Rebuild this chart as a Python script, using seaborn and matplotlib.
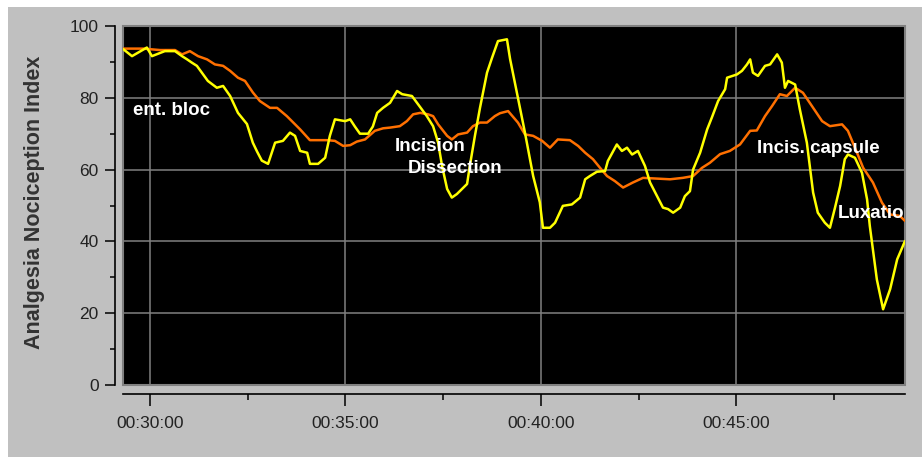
import numpy as np
import pandas as pd
import seaborn as sns
import matplotlib.pyplot as plt
from matplotlib.patches import Rectangle
from matplotlib.ticker import FixedLocator, FuncFormatter

# waktu dalam menit (00:MM:SS)
yellow_t = [29.31, 29.54, 29.92, 30.05, 30.38, 30.64, 30.82, 30.95, 31.07, 31.20,
            31.48, 31.71, 31.87, 32.05, 32.25, 32.48, 32.63, 32.74, 32.86, 33.02,
            33.20, 33.40, 33.58, 33.71, 33.84, 34.02, 34.09, 34.30, 34.48, 34.60,
            34.73, 34.99, 35.12, 35.24, 35.37, 35.58, 35.70, 35.81, 35.96, 36.14,
            36.32, 36.45, 36.70, 36.85, 37.08, 37.24, 37.37, 37.47, 37.60, 37.72,
            37.85, 37.98, 38.11, 38.18, 38.31, 38.44, 38.62, 38.75, 38.90, 39.13,
            39.21, 39.28, 39.41, 39.59, 39.80, 39.97, 40.05, 40.23, 40.36, 40.56,
            40.79, 41.00, 41.13, 41.25, 41.43, 41.64, 41.71, 41.94, 42.07, 42.20,
            42.33, 42.48, 42.66, 42.79, 42.97, 43.12, 43.25, 43.38, 43.56, 43.68,
            43.81, 43.89, 44.07, 44.25, 44.37, 44.53, 44.71, 44.76, 45.01, 45.14,
            45.27, 45.35, 45.42, 45.55, 45.73, 45.86, 46.04, 46.16, 46.24, 46.32,
            46.50, 46.62, 46.80, 46.96, 47.08, 47.26, 47.39, 47.52, 47.65, 47.77,
            47.85, 48.03, 48.21, 48.34, 48.41, 48.59, 48.75, 48.93, 49.11, 49.31]
yellow_v = [93.6, 91.6, 94.0, 91.6, 93.0, 93.0, 91.6, 90.7, 89.8, 88.9,
            84.7, 82.8, 83.3, 80.5, 75.8, 72.7, 67.5, 65.0, 62.5, 61.6,
            67.5, 68.0, 70.3, 69.4, 65.2, 64.7, 61.6, 61.6, 63.3, 69.4,
            74.0, 73.5, 74.0, 72.0, 70.0, 70.0, 72.0, 75.8, 77.2, 78.6,
            81.9, 81.0, 80.5, 78.3, 74.9, 72.1, 67.5, 61.0, 54.6, 52.2,
            53.2, 54.6, 56.0, 61.0, 69.4, 77.2, 87.0, 91.2, 95.8, 96.3,
            90.8, 87.0, 80.0, 70.3, 58.2, 50.9, 43.8, 43.8, 45.2, 49.9,
            50.3, 52.2, 57.3, 58.2, 59.4, 59.6, 62.4, 67.0, 65.2, 66.1,
            64.2, 65.2, 61.0, 56.4, 52.6, 49.4, 49.0, 48.0, 49.4, 52.6,
            54.0, 60.0, 64.7, 71.2, 74.5, 79.1, 82.4, 85.6, 86.5, 87.5,
            89.3, 90.7, 87.0, 86.1, 88.9, 89.3, 92.1, 89.8, 82.8, 84.7,
            83.7, 76.8, 67.5, 53.6, 48.0, 45.2, 43.8, 49.4, 55.4, 62.9,
            64.2, 63.3, 59.1, 51.7, 44.3, 29.4, 21.1, 26.7, 35.0, 40.1]

orange_t = [29.31, 29.82, 30.26, 30.64, 30.82, 31.02, 31.23, 31.46, 31.66, 31.87,
            32.05, 32.25, 32.43, 32.63, 32.81, 33.07, 33.25, 33.50, 33.84, 34.09,
            34.53, 34.73, 34.94, 35.12, 35.29, 35.50, 35.75, 35.96, 36.14, 36.39,
            36.57, 36.73, 36.91, 37.11, 37.24, 37.37, 37.60, 37.72, 37.88, 38.11,
            38.26, 38.44, 38.62, 38.82, 38.95, 39.16, 39.34, 39.41, 39.59, 39.80,
            40.03, 40.23, 40.43, 40.74, 40.95, 41.13, 41.33, 41.51, 41.69, 41.89,
            42.10, 42.35, 42.61, 43.30, 43.63, 43.89, 44.12, 44.32, 44.58, 44.83,
            45.09, 45.35, 45.52, 45.73, 45.91, 46.11, 46.29, 46.50, 46.70, 46.93,
            47.19, 47.39, 47.70, 47.85, 48.03, 48.24, 48.49, 48.72, 48.93, 49.18,
            49.31]
orange_v = [93.7, 93.7, 93.3, 93.3, 92.1, 93.0, 91.6, 90.7, 89.3, 88.9,
            87.5, 85.6, 84.7, 81.5, 79.1, 77.2, 77.2, 74.9, 71.2, 68.2,
            68.2, 68.0, 66.6, 66.8, 67.8, 68.4, 70.8, 71.5, 71.7, 72.1,
            73.5, 75.4, 75.8, 75.4, 74.9, 72.6, 69.4, 68.4, 69.8, 70.3,
            72.1, 73.1, 73.1, 74.9, 75.7, 76.3, 74.0, 73.1, 69.8, 69.4,
            68.0, 66.1, 68.4, 68.2, 66.6, 64.7, 62.9, 60.5, 58.2, 56.8,
            55.0, 56.4, 57.7, 57.3, 57.7, 58.2, 60.5, 61.9, 64.3, 65.2,
            67.0, 70.8, 70.9, 74.9, 77.7, 81.0, 80.5, 82.8, 81.4, 77.7,
            73.5, 72.1, 72.6, 70.8, 66.1, 60.5, 56.4, 50.8, 47.5, 47.1,
            45.7]

# label kejadian (teks, menit, nilai)
event_labels = ['ent. bloc', 'Incision', 'Dissection', 'Incis. capsule', 'Luxation']
event_t = [29.57, 36.27, 36.60, 45.52, 47.60]
event_v = [76.6, 66.3, 60.4, 66.0, 47.9]

df_y = pd.DataFrame({'t': yellow_t, 'v': yellow_v})
df_o = pd.DataFrame({'t': orange_t, 'v': orange_v})

sns.set_style('white')
sans = ['Liberation Sans', 'DejaVu Sans']

fig = plt.figure(figsize=(9.22, 4.59), dpi=100, facecolor='white')
bg = Rectangle((8 / 922, 2 / 459), 914 / 922, 450 / 459,
               transform=fig.transFigure, facecolor='#c0c0c0',
               edgecolor='none', zorder=-10)
fig.patches.append(bg)

ax = fig.add_axes([123 / 922, 1 - 385 / 459, 782 / 922, 359 / 459])
ax.set_facecolor('black')
ax.patch.set_edgecolor('#808080')
ax.patch.set_linewidth(1.5)

sns.lineplot(data=df_o, x='t', y='v', ax=ax, color='#ff7000', linewidth=1.8,
             estimator=None, sort=False)
sns.lineplot(data=df_y, x='t', y='v', ax=ax, color='#ffff00', linewidth=1.8,
             estimator=None, sort=False)

ax.set_xlim(29.31, 49.31)
ax.set_ylim(0, 100)

ax.xaxis.set_major_locator(FixedLocator([30, 35, 40, 45]))
ax.xaxis.set_minor_locator(FixedLocator([32.5, 37.5, 42.5, 47.5]))
ax.yaxis.set_major_locator(FixedLocator([0, 20, 40, 60, 80, 100]))
ax.yaxis.set_minor_locator(FixedLocator([10, 30, 50, 70, 90]))
ax.xaxis.set_major_formatter(FuncFormatter(lambda v, p: f"00:{int(v):02d}:{int(round((v % 1) * 60)):02d}"))

ax.grid(True, which='major', color='#808080', linewidth=1.1)

for s in ['top', 'right']:
    ax.spines[s].set_visible(False)
ax.spines['left'].set_position(('outward', 5.5))
ax.spines['bottom'].set_position(('outward', 6.5))
for s in ['left', 'bottom']:
    ax.spines[s].set_color('black')
    ax.spines[s].set_linewidth(1.2)

ax.tick_params(axis='y', which='major', length=7, width=1.1, color='black',
               left=True, pad=5, labelsize=12.5, labelcolor='#222222')
ax.tick_params(axis='y', which='minor', length=3.5, width=1.1, color='black', left=True)
ax.tick_params(axis='x', which='major', length=8.5, width=1.1, color='black',
               bottom=True, pad=7, labelsize=12.5, labelcolor='#222222')
ax.tick_params(axis='x', which='minor', length=4.5, width=1.1, color='black', bottom=True)
for lab in ax.get_xticklabels() + ax.get_yticklabels():
    lab.set_family(sans)

ax.set_xlabel('')
ax.set_ylabel('Analgesia Nociception Index', fontsize=15.5, fontweight='bold',
              color='#333333', family=sans)
ax.yaxis.set_label_coords(-0.100, 0.51)

for txt, t, v in zip(event_labels, event_t, event_v):
    ax.text(t, v, txt, color='white', fontsize=13.5, fontweight='bold',
            family=sans, ha='left', va='center', clip_on=True, zorder=5)

fig.savefig('out.png', dpi=100, facecolor=fig.get_facecolor())
